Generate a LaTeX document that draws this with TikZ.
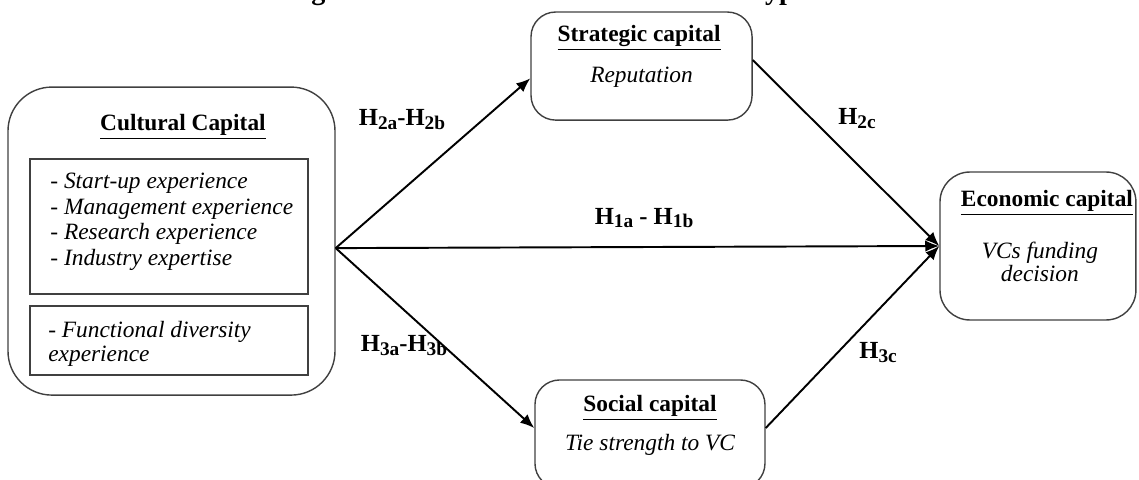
\documentclass[tikz,border=0pt]{standalone}
\usepackage{fontspec}
\setmainfont{Liberation Serif}
\usepackage{tikz}
\usetikzlibrary{shapes, arrows.meta}
\usetikzlibrary{positioning}
\tikzstyle{capbox} = [rectangle, rounded corners = 14, draw = black!75,
  line width = 0.8, inner sep = 0]
\tikzstyle{subbox} = [rectangle, draw = black!75, line width = 0.8, inner sep = 0]
\tikzstyle{head} = [font = \fontsize{13.3}{15}\selectfont\bfseries, inner sep = 0]
\tikzstyle{itemtext} = [
  font = \fontsize{13.3}{14.5}\selectfont\itshape,
  align = left, inner sep = 0
]
\tikzstyle{hlabel} = [font = \fontsize{14}{16}\selectfont\bfseries, inner sep = 0]
\newcommand{\Hsub}[1]{H\raisebox{-0.35ex}{\fontsize{11}{11}\selectfont #1}}

\begin{document}
\begin{tikzpicture}[node distance = 0, >={Latex[length = 8, width = 6.5]}]
    \useasboundingbox (-97.6pt, -135.4pt) rectangle (550.6pt, 137.2pt);
    \clip (-97.6pt, -135.4pt) rectangle (550.6pt, 137.2pt);

    \node [capbox, rounded corners = 25, minimum width = 186.1,
      minimum height = 175.3] (cult) {};
    \node [head, below of = cult, xshift = 6.5, yshift = 64.9] (cult-title)
      {\underline{Cultural Capital}};
    \node [subbox, below of = cult, xshift = -1.4, yshift = 8.3,
      minimum width = 158.2, minimum height = 76.8] (exp) {};
    \node [itemtext, below of = cult, anchor = west, xshift = -69.1,
      yshift = 11.1] (exp-list)
      {- Start-up experience\\- Management experience\\- Research experience\\- Industry expertise};
    \node [subbox, below of = cult, xshift = -1.4, yshift = -56.6,
      minimum width = 158.2, minimum height = 39.3] (div) {};
    \node [itemtext, font = \fontsize{13.3}{13.7}\selectfont\itshape,
      below of = cult, anchor = west, xshift = -70.3, yshift = -58.6] (div-list)
      {- Functional diversity\\experience};

    \node [capbox, below of = cult, xshift = 267.5, yshift = 99.6,
      minimum width = 125.8, minimum height = 61.5] (strat) {};
    \node [head, below of = strat, xshift = -1.4, yshift = 15.9] (strat-title)
      {\underline{Strategic capital}};
    \node [itemtext, below of = strat, yshift = -6.3] (strat-text) {Reputation};

    \node [capbox, below of = cult, xshift = 272.3, yshift = -109.8,
      minimum width = 130.9, minimum height = 61.5] (social) {};
    \node [head, below of = social, yshift = 14.8] (social-title)
      {\underline{Social capital}};
    \node [itemtext, below of = social, yshift = -6.3] (social-text)
      {Tie strength to VC};

    \node [capbox, rounded corners = 17, below of = cult, xshift = 493.1,
      yshift = -2.8, minimum width = 111.5, minimum height = 84.2] (econ) {};
    \node [head, below of = econ, xshift = 5.1, yshift = 24.5] (econ-title)
      {\underline{Economic capital}};
    \node [itemtext, align = center, font = \fontsize{13.3}{13.1}\selectfont\itshape,
      below of = econ, xshift = 1.1, yshift = -8.8] (econ-text)
      {VCs funding\\decision};

    \node [font = \fontsize{16}{18}\selectfont\bfseries, below of = cult,
      anchor = base, xshift = 234.5, yshift = 137.2] (fig-title)
      {Figure 1: detailed research model and hypotheses};

    \node [hlabel, below of = cult, xshift = 131.2, yshift = 68.9] (h-2ab)
      {\Hsub{2a}-\Hsub{2b}};
    \node [hlabel, below of = cult, xshift = 132.3, yshift = -59.2] (h-3ab)
      {\Hsub{3a}-\Hsub{3b}};
    \node [hlabel, below of = cult, xshift = 268.9, yshift = 13.1] (h-1ab)
      {\Hsub{1a} - \Hsub{1b}};
    \node [hlabel, below of = cult, xshift = 390.1, yshift = 70] (h-2c)
      {\Hsub{2c}};
    \node [hlabel, below of = cult, xshift = 402.1, yshift = -63.7] (h-3c)
      {\Hsub{3c}};

    \coordinate (src) at ([yshift = -4]cult.east);
    \coordinate (strat-in) at ([yshift = -7]strat.west);
    \coordinate (strat-out) at ([yshift = 3.4]strat.east);
    \coordinate (social-in) at ([yshift = 3.4]social.west);
    \coordinate (social-out) at ([yshift = 3.4]social.east);

    \draw [->, line width = 1.1] (src) -- (strat-in);
    \draw [->, line width = 1.1] (src) -- (social-in);
    \draw [->, line width = 1.1] (src) -- (econ.west);
    \draw [->, line width = 1.1] (strat-out) -- (econ.west);
    \draw [->, line width = 1.1] (social-out) -- (econ.west);
  \end{tikzpicture}
\end{document}
